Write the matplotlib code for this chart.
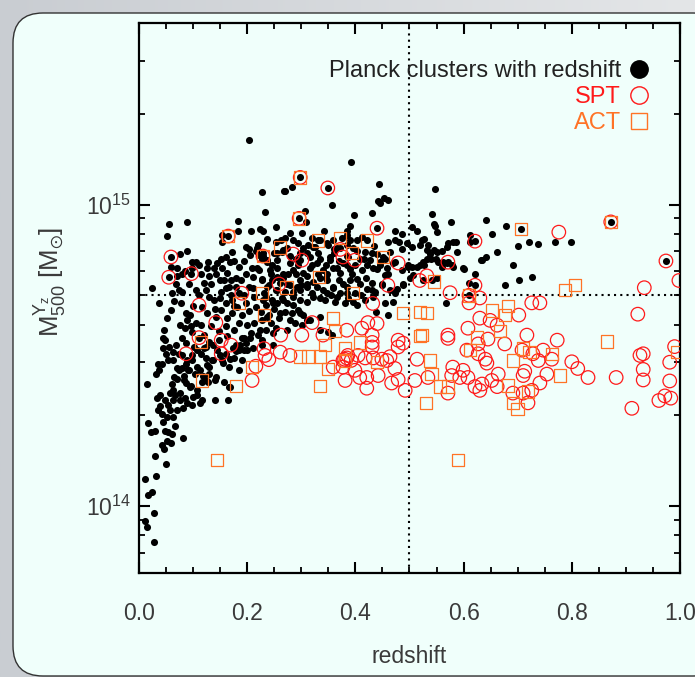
import numpy as np
import matplotlib
matplotlib.use('Agg')
import matplotlib.pyplot as plt
from matplotlib.lines import Line2D
from matplotlib.patches import FancyBboxPatch
from matplotlib.ticker import MultipleLocator, FormatStrFormatter

plt.rcParams['font.family'] = ['Liberation Sans', 'DejaVu Sans']
plt.rcParams['mathtext.fontset'] = 'custom'
plt.rcParams['mathtext.rm'] = 'Liberation Sans'
plt.rcParams['mathtext.it'] = 'Liberation Sans:italic'
plt.rcParams['mathtext.default'] = 'regular'

# (redshift, M500 in units of 1e14 Msun)
planck_pts = [
    # low-z tail
    (0.011, 1.23), (0.016, 1.09), (0.024, 1.11), (0.028, 0.95), (0.011, 0.89),
    (0.015, 0.85), (0.028, 0.76), (0.031, 1.26), (0.030, 1.47), (0.050, 1.38),
    (0.017, 1.88), (0.022, 1.76), (0.030, 1.78), (0.015, 2.54), (0.031, 2.75),
    (0.035, 2.95), (0.043, 2.95), (0.033, 2.28), (0.035, 2.08), (0.039, 2.14),
    (0.044, 1.90), (0.043, 1.60), (0.046, 1.55), (0.048, 1.78), (0.052, 1.65),
    (0.059, 1.62), (0.061, 1.74), (0.081, 1.68), (0.054, 1.76), (0.067, 1.84),
    (0.063, 1.97), (0.052, 1.97), (0.043, 2.02), (0.057, 2.08), (0.070, 2.08),
    (0.054, 2.16), (0.048, 2.24), (0.063, 2.24), (0.039, 2.33), (0.067, 2.33),
    (0.076, 2.24), (0.081, 2.12), (0.089, 2.20), (0.098, 2.16), (0.100, 2.30),
    (0.113, 2.20), (0.107, 2.33), (0.117, 2.24), (0.140, 2.24), (0.165, 2.24),
    (0.168, 2.48), (0.157, 2.58), (0.140, 2.61), (0.128, 2.58), (0.118, 2.71),
    (0.116, 2.58),
    (0.044, 3.62), (0.048, 3.55), (0.044, 3.35), (0.063, 3.24), (0.054, 3.04),
    (0.063, 3.06), (0.079, 3.16), (0.070, 2.88), (0.079, 2.88), (0.089, 3.04),
    (0.098, 3.16), (0.107, 3.29), (0.120, 3.35), (0.137, 3.42), (0.148, 3.55),
    (0.163, 3.67), (0.174, 3.35), (0.187, 3.42), (0.200, 3.29), (0.211, 3.35),
    (0.227, 3.42), (0.248, 3.42), (0.194, 3.29), (0.179, 3.27), (0.150, 3.16),
    (0.137, 3.04), (0.126, 2.93), (0.113, 2.82), (0.104, 2.75), (0.091, 2.82),
    (0.083, 2.71), (0.070, 2.64), (0.061, 2.54), (0.087, 2.56), (0.094, 2.48),
    (0.107, 2.42), (0.063, 2.42), (0.057, 2.38), (0.076, 2.38), (0.085, 2.28),
    (0.129, 2.75), (0.168, 3.08), (0.155, 2.98), (0.195, 3.62), (0.227, 3.56),
    # main cloud, z < 0.27
    (0.024, 5.28), (0.037, 4.72), (0.046, 3.83), (0.052, 4.20), (0.059, 4.46),
    (0.061, 5.10), (0.068, 5.45), (0.074, 5.20), (0.079, 5.12), (0.078, 4.72),
    (0.087, 4.36), (0.089, 4.13), (0.079, 3.60), (0.068, 3.42), (0.087, 3.47),
    (0.074, 3.20), (0.055, 3.37), (0.050, 3.20), (0.037, 2.82), (0.098, 3.78),
    (0.105, 4.06), (0.096, 3.95), (0.111, 3.62), (0.102, 3.37), (0.115, 3.20),
    (0.124, 3.37), (0.124, 3.11), (0.129, 2.89), (0.135, 3.04), (0.098, 3.04),
    (0.107, 2.89), (0.092, 2.82), (0.087, 2.97), (0.074, 2.82), (0.065, 2.67),
    (0.083, 2.61), (0.096, 2.51), (0.142, 2.67), (0.166, 2.49), (0.124, 2.61),
    (0.126, 4.36), (0.116, 4.57), (0.139, 4.82), (0.129, 4.93), (0.124, 5.20),
    (0.133, 5.45), (0.142, 5.90), (0.139, 6.18), (0.126, 6.18), (0.111, 6.30),
    (0.098, 6.15), (0.079, 5.90), (0.070, 6.18), (0.092, 5.45), (0.105, 5.20),
    (0.153, 6.18), (0.163, 5.95), (0.157, 5.61), (0.166, 5.33), (0.152, 5.12),
    (0.161, 4.72), (0.152, 4.46), (0.163, 4.20), (0.142, 4.23), (0.133, 3.95),
    (0.148, 3.80), (0.161, 3.95), (0.176, 3.83), (0.185, 4.06), (0.172, 4.36),
    (0.181, 4.57), (0.172, 4.82), (0.185, 5.08), (0.179, 5.33), (0.189, 5.61),
    (0.198, 5.90), (0.209, 6.18), (0.222, 6.06), (0.203, 5.33), (0.213, 4.93),
    (0.198, 4.72), (0.203, 4.43), (0.216, 4.57), (0.190, 3.62), (0.179, 3.42),
    (0.185, 3.29), (0.198, 3.47), (0.207, 3.75), (0.213, 4.06), (0.227, 4.13),
    (0.235, 3.83), (0.244, 4.06), (0.253, 3.89), (0.259, 4.20), (0.235, 4.64),
    (0.246, 4.82), (0.231, 5.08), (0.240, 5.40), (0.253, 5.20), (0.255, 5.74),
    (0.244, 5.90), (0.227, 5.61), (0.255, 4.72), (0.185, 2.82), (0.166, 2.89),
    (0.153, 3.04), (0.059, 6.20),
    (0.115, 4.00), (0.120, 3.70), (0.130, 3.50), (0.145, 3.30), (0.160, 3.20),
    (0.175, 3.10), (0.190, 3.05), (0.140, 4.50), (0.150, 4.90), (0.160, 5.30),
    (0.170, 5.00), (0.175, 4.60), (0.190, 4.30), (0.200, 4.00), (0.205, 3.60),
    (0.220, 3.70), (0.225, 4.40), (0.235, 4.95), (0.210, 5.30), (0.195, 5.00),
    (0.180, 5.70), (0.170, 5.60), (0.150, 5.60), (0.145, 6.40), (0.160, 6.70),
    (0.185, 6.20), (0.195, 6.50), (0.205, 6.80), (0.245, 6.30), (0.245, 5.60),
    (0.260, 5.50), (0.250, 4.50), (0.240, 4.30), (0.120, 5.50), (0.110, 5.00),
    (0.100, 4.60), (0.095, 4.30), (0.085, 3.90), (0.075, 4.00), (0.065, 4.80),
    (0.070, 5.80), (0.085, 6.00), (0.115, 5.90), (0.130, 5.80),
    # upper part, z < 0.27
    (0.203, 16.4), (0.227, 11.0), (0.268, 11.1), (0.233, 9.45), (0.055, 8.6),
    (0.089, 8.75), (0.052, 7.86), (0.183, 8.8), (0.183, 8.2), (0.153, 7.95),
    (0.153, 7.5), (0.165, 7.86), (0.207, 8.15), (0.224, 8.3), (0.229, 8.2),
    (0.253, 8.4), (0.237, 7.7), (0.253, 7.5), (0.262, 7.6), (0.198, 7.25),
    (0.203, 7.1), (0.220, 7.34), (0.172, 6.97), (0.152, 6.6), (0.089, 7.0),
    (0.076, 6.85), (0.059, 6.7), (0.098, 6.45), (0.105, 6.45), (0.128, 6.45),
    (0.168, 6.45), (0.176, 6.5), (0.216, 7.0), (0.222, 6.8), (0.227, 6.6),
    (0.250, 6.9), (0.264, 6.95), (0.255, 6.54), (0.237, 6.45), (0.055, 5.74),
    (0.097, 5.9), (0.229, 6.75),
    # 0.27 < z < 0.53, upper
    (0.392, 13.8), (0.298, 12.3), (0.349, 11.35), (0.270, 11.1), (0.283, 11.4),
    (0.444, 11.7), (0.357, 10.0), (0.307, 9.5), (0.296, 9.0), (0.309, 8.75),
    (0.397, 9.2), (0.390, 8.5), (0.384, 8.2), (0.431, 9.4), (0.442, 10.3),
    (0.453, 10.5), (0.460, 10.35), (0.446, 10.1), (0.440, 8.35), (0.342, 8.2),
    (0.331, 7.6), (0.421, 7.6), (0.505, 8.4), (0.514, 8.15), (0.527, 7.7),
    (0.473, 8.15), (0.486, 8.0), (0.473, 7.62), (0.481, 7.5), (0.495, 7.45),
    (0.460, 7.5), (0.434, 7.3), (0.412, 7.8), (0.403, 7.62), (0.384, 7.9),
    (0.390, 7.6), (0.375, 7.75), (0.359, 7.62), (0.320, 7.75), (0.312, 7.34),
    (0.301, 8.05), (0.279, 8.05), (0.270, 7.75),
    (0.294, 7.45), (0.325, 7.25), (0.347, 7.45), (0.366, 7.2), (0.403, 7.0),
    (0.418, 6.95), (0.440, 6.85), (0.451, 6.7), (0.464, 6.95), (0.486, 7.1),
    (0.505, 7.25), (0.519, 7.34), (0.473, 6.45), (0.445, 6.45), (0.427, 6.54),
    (0.408, 6.6), (0.384, 6.75), (0.353, 6.7), (0.335, 6.6), (0.316, 6.7),
    (0.298, 6.9), (0.279, 6.75), (0.266, 7.06),
    # z > 0.52
    (0.547, 11.25), (0.541, 9.3), (0.545, 8.6), (0.547, 8.5), (0.577, 8.75),
    (0.550, 8.1), (0.641, 8.9), (0.678, 8.5), (0.706, 8.3), (0.652, 8.0),
    (0.612, 7.9), (0.612, 7.5), (0.523, 7.6), (0.534, 7.34), (0.571, 7.45),
    (0.580, 7.5), (0.586, 7.5), (0.569, 7.25), (0.700, 7.3), (0.721, 7.5),
    (0.738, 7.4), (0.769, 7.5), (0.662, 6.95), (0.641, 6.7), (0.632, 6.54),
    (0.588, 6.95), (0.550, 6.95), (0.560, 7.0), (0.532, 7.06), (0.538, 6.85),
    (0.532, 6.6), (0.525, 6.45), (0.553, 6.45), (0.562, 6.45), (0.571, 6.44),
    (0.691, 6.3), (0.799, 7.5), (0.872, 8.76), (0.974, 6.5), (0.621, 7.56),
    (0.545, 7.06), (0.549, 6.6), (0.540, 6.6), (0.527, 6.3), (0.519, 6.3),
    (0.514, 6.2), (0.505, 6.2), (0.497, 6.2), (0.580, 6.2), (0.601, 6.1),
    (0.621, 5.9), (0.610, 5.5), (0.621, 5.4), (0.610, 5.0), (0.567, 4.72),
    (0.676, 5.4), (0.702, 5.6), (0.726, 5.75), (0.501, 5.7), (0.488, 5.4),
    (0.470, 4.75), (0.473, 5.08), (0.460, 4.3), (0.438, 4.4), (0.455, 5.83),
    (0.449, 5.4), (0.431, 5.2), (0.525, 5.6), (0.541, 5.6), (0.550, 5.7),
    (0.560, 6.2), (0.569, 6.4), (0.578, 6.3), (0.599, 6.15), (0.634, 6.54),
    # dense middle, 0.26 < z < 0.51
    (0.266, 5.7), (0.275, 5.9), (0.285, 6.06), (0.294, 6.3), (0.303, 5.95),
    (0.316, 6.18), (0.298, 5.61), (0.279, 5.4), (0.270, 5.12), (0.264, 4.9),
    (0.285, 5.12), (0.298, 5.2), (0.311, 5.33), (0.322, 5.53), (0.335, 5.7),
    (0.348, 5.9), (0.359, 6.18), (0.372, 5.95), (0.384, 6.3), (0.394, 5.9),
    (0.403, 5.66), (0.412, 6.06), (0.421, 6.3), (0.433, 6.15), (0.445, 6.3),
    (0.458, 6.15), (0.469, 6.42), (0.486, 6.06), (0.497, 6.3), (0.506, 5.83),
    (0.488, 5.45), (0.477, 5.25), (0.464, 5.2), (0.449, 5.45), (0.436, 5.12),
    (0.421, 5.25), (0.408, 5.45), (0.399, 5.08), (0.384, 5.33), (0.372, 5.08),
    (0.359, 5.29), (0.348, 5.08), (0.335, 4.9), (0.322, 4.93), (0.311, 4.75),
    (0.298, 4.82), (0.285, 4.64), (0.274, 4.72), (0.270, 4.4), (0.283, 4.36),
    (0.294, 4.46), (0.303, 4.3), (0.288, 4.06), (0.301, 3.98), (0.311, 4.13),
    (0.335, 3.83), (0.349, 3.78), (0.357, 3.69), (0.455, 4.72), (0.381, 4.72),
    (0.362, 4.75), (0.403, 4.64), (0.418, 4.82), (0.433, 4.93), (0.386, 4.9),
    (0.218, 7.15), (0.229, 6.9), (0.237, 6.54), (0.218, 6.18), (0.211, 5.74),
    (0.227, 5.66), (0.242, 6.06), (0.255, 6.18), (0.266, 5.9), (0.279, 6.42),
    (0.298, 6.54), (0.329, 6.42), (0.340, 6.06), (0.353, 6.54), (0.366, 6.18),
    (0.377, 6.42), (0.386, 6.7), (0.255, 6.9), (0.274, 7.2), (0.285, 7.62),
    (0.303, 7.2), (0.322, 7.25), (0.335, 7.62), (0.349, 7.34), (0.372, 7.2),
    (0.384, 7.34), (0.237, 5.33), (0.255, 5.2), (0.274, 5.45), (0.292, 5.33),
    (0.311, 5.45), (0.329, 5.33), (0.348, 5.61), (0.359, 5.33), (0.377, 5.45),
    (0.229, 4.82), (0.248, 4.72), (0.266, 4.82), (0.285, 4.93), (0.344, 4.82),
    (0.366, 4.93), (0.384, 5.08), (0.237, 4.23), (0.261, 4.36), (0.279, 4.13),
    (0.298, 4.36), (0.316, 4.13), (0.335, 4.23), (0.224, 3.83), (0.248, 3.75),
    (0.274, 3.83),
    (0.290, 6.60), (0.310, 6.90), (0.320, 6.30), (0.330, 6.90), (0.345, 6.30),
    (0.360, 6.90), (0.370, 6.50), (0.390, 6.10), (0.400, 6.30), (0.415, 6.60),
    (0.430, 6.90), (0.440, 6.10), (0.455, 6.60), (0.460, 5.90), (0.395, 7.20),
    (0.360, 7.10), (0.345, 5.70), (0.330, 5.90), (0.310, 5.80), (0.290, 5.90),
    (0.300, 5.40), (0.320, 5.10), (0.340, 5.20), (0.355, 5.00), (0.370, 5.60),
    (0.390, 5.60), (0.420, 5.70), (0.430, 5.50), (0.410, 5.00), (0.395, 4.75),
]

spt_pts = [
    (0.298, 12.3), (0.349, 11.35), (0.296, 9.0), (0.165, 7.86), (0.059, 6.7),
    (0.055, 5.74), (0.097, 5.9), (0.229, 6.75), (0.440, 8.35), (0.872, 8.76),
    (0.974, 6.5), (0.571, 6.44), (0.621, 7.56), (0.621, 5.4), (0.610, 5.0),
    (0.776, 8.1),
    (0.111, 4.64), (0.142, 4.06), (0.152, 3.55), (0.111, 3.62), (0.087, 3.2),
    (0.170, 3.42), (0.152, 3.2), (0.190, 5.08), (0.262, 3.69), (0.231, 3.33),
    (0.233, 3.16), (0.240, 3.06), (0.216, 2.91), (0.209, 2.61), (0.259, 5.45),
    (0.261, 3.24), (0.279, 3.16), (0.301, 3.69), (0.320, 4.06), (0.340, 3.69),
    (0.384, 3.83), (0.412, 3.89), (0.423, 4.06), (0.440, 4.03), (0.431, 3.69),
    (0.431, 3.49), (0.431, 3.37), (0.384, 3.1), (0.377, 3.04), (0.386, 3.16),
    (0.380, 3.07), (0.392, 3.04), (0.405, 3.16), (0.418, 3.1), (0.433, 3.1),
    (0.449, 3.07), (0.458, 3.04), (0.464, 3.13), (0.473, 2.86), (0.359, 2.89),
    (0.377, 2.89), (0.399, 2.82), (0.408, 2.67), (0.421, 2.67), (0.421, 2.46),
    (0.381, 2.61), (0.467, 2.56), (0.442, 2.71), (0.479, 3.55), (0.488, 3.47),
    (0.479, 3.37), (0.514, 3.07), (0.510, 2.61), (0.460, 5.4), (0.432, 4.7),
    (0.479, 6.4), (0.532, 5.8), (0.519, 5.6), (0.575, 5.1), (0.610, 4.72),
    (0.630, 4.9), (0.726, 4.72), (0.741, 4.72), (0.702, 4.3), (0.630, 4.2),
    (0.649, 4.13), (0.662, 3.98), (0.608, 3.89), (0.645, 3.58), (0.676, 3.45),
    (0.717, 3.69), (0.773, 3.55), (0.571, 3.69), (0.571, 3.6), (0.627, 3.45),
    (0.606, 3.29), (0.627, 3.2), (0.640, 3.07), (0.643, 2.98), (0.708, 3.29),
    (0.728, 3.2), (0.747, 3.29), (0.763, 3.07), (0.738, 3.04), (0.580, 2.89),
    (0.599, 2.82), (0.578, 2.71), (0.593, 2.67), (0.608, 2.67), (0.621, 2.49),
    (0.634, 2.54), (0.664, 2.74), (0.662, 2.49), (0.710, 2.71), (0.754, 2.74),
    (0.726, 2.42), (0.479, 2.63), (0.492, 2.42), (0.534, 2.67), (0.571, 2.37),
    (0.630, 2.42), (0.652, 2.61), (0.691, 2.37), (0.710, 2.37), (0.719, 2.2),
    (0.713, 2.8), (0.741, 2.56), (0.800, 3.01), (0.811, 2.86), (0.830, 2.67),
    (0.882, 2.67), (0.911, 2.11), (0.926, 3.16), (0.932, 3.2), (0.932, 2.84),
    (0.932, 2.62), (0.961, 2.24), (0.972, 2.32), (0.983, 2.28), (0.981, 2.6),
    (0.981, 3.0), (0.990, 3.38), (0.934, 5.3), (0.998, 5.6), (0.922, 4.33),
    (0.285, 6.85), (0.301, 6.54), (0.372, 7.1), (0.377, 6.7), (0.399, 6.54),
]

act_pts = [
    (0.298, 12.3), (0.296, 9.0), (0.165, 7.86), (0.229, 6.75), (0.331, 7.6),
    (0.421, 7.6), (0.706, 8.3), (0.872, 8.76), (0.610, 5.0),
    (0.144, 1.42), (0.590, 1.42), (0.209, 2.89), (0.116, 2.61), (0.179, 2.5),
    (0.231, 4.3), (0.227, 5.08), (0.185, 4.72), (0.115, 3.5), (0.359, 4.2),
    (0.362, 3.8), (0.408, 3.49), (0.344, 3.42), (0.298, 3.13), (0.313, 3.13),
    (0.335, 3.13), (0.349, 2.85), (0.381, 3.33), (0.335, 2.5), (0.440, 3.0),
    (0.519, 3.66), (0.519, 4.4), (0.488, 4.36), (0.396, 5.1), (0.273, 5.3),
    (0.333, 5.75), (0.372, 7.75), (0.394, 6.9), (0.451, 6.7), (0.261, 7.2),
    (0.682, 4.6), (0.652, 4.46), (0.676, 4.3), (0.532, 4.36), (0.523, 3.69),
    (0.625, 3.62), (0.667, 3.8), (0.612, 3.29), (0.710, 3.33), (0.722, 3.25),
    (0.763, 3.2), (0.691, 3.04), (0.541, 2.74), (0.571, 2.49), (0.682, 2.51),
    (0.778, 2.71), (0.719, 2.4), (0.865, 3.52), (0.994, 3.25), (0.531, 2.2),
    (0.700, 2.1), (0.691, 2.2), (0.556, 2.49), (0.538, 3.04), (0.806, 5.4),
    (0.787, 5.2), (0.545, 5.55), (0.381, 3.04),
]

legend_labels = ['Planck clusters with redshift', 'SPT', 'ACT']
z_split = 0.5
m_split = 5.0e14

red = '#ff1a1a'
orange = '#ff7326'

planck = np.array(planck_pts)
spt = np.array(spt_pts)
act = np.array(act_pts)

fig = plt.figure(figsize=(6.95, 6.77), dpi=100)

# background: grey gradient with a rounded light panel
bg = fig.add_axes([0, 0, 1, 1])
grad = np.linspace(0, 1, 256)[None, :]
bg.imshow(grad, extent=(0, 695, 677, 0), aspect='auto',
          cmap=matplotlib.colors.LinearSegmentedColormap.from_list(
              'g', ['#c9cdd2', '#e4e6e8']))
bg.add_patch(FancyBboxPatch((13, 13), 710, 663,
                            boxstyle='round,pad=0,rounding_size=30',
                            fc='#f0fffb', ec='#333333', lw=1.0))
bg.set_xlim(0, 695)
bg.set_ylim(677, 0)
bg.axis('off')

ax = fig.add_axes([139/695, 1 - 573/677, 541/695, 550/677])
ax.set_facecolor('none')

ax.scatter(planck[:, 0], planck[:, 1]*1e14, s=26, c='k', lw=0, zorder=3)
ax.scatter(spt[:, 0], spt[:, 1]*1e14, s=95, facecolors='none',
           edgecolors=red, lw=0.9, zorder=4)
ax.scatter(act[:, 0], act[:, 1]*1e14, s=80, marker='s', facecolors='none',
           edgecolors=orange, lw=0.9, zorder=4)

ax.axvline(z_split, color='k', ls=(0, (1, 2)), lw=1.5, zorder=2)
ax.axhline(m_split, color='k', ls=(0, (1, 2)), lw=1.5, zorder=2)

ax.set_yscale('log')
ax.set_xlim(0, 1.0)
ax.set_ylim(6e13, 4e15)
ax.xaxis.set_major_locator(MultipleLocator(0.2))
ax.xaxis.set_minor_locator(MultipleLocator(0.05))
ax.xaxis.set_major_formatter(FormatStrFormatter('%.1f'))

for s in ax.spines.values():
    s.set_linewidth(1.6)
ax.tick_params(which='both', direction='in', top=True, right=True,
               labelsize=16.5, labelcolor='#3a3a3a')
ax.tick_params(which='major', length=8, width=1.5)
ax.tick_params(which='minor', length=4.5, width=1.3)
ax.tick_params(axis='x', pad=21)
ax.tick_params(axis='y', pad=6)

ax.set_xlabel('redshift', fontsize=16.5, color='#3a3a3a', labelpad=14)
ax.set_ylabel(r'$\mathrm{M}_{500}^{\mathrm{Y}_z}$ [M$_{\odot}$]',
              fontsize=18.5, color='#3a3a3a')
ax.yaxis.set_label_coords(-0.13, 0.53)

handles = [
    Line2D([], [], ls='', marker='o', color='k', markersize=12.5),
    Line2D([], [], ls='', marker='o', mfc='none', mec=red, mew=1.0,
           markersize=12.5),
    Line2D([], [], ls='', marker='s', mfc='none', mec=orange, mew=1.0,
           markersize=12),
]
ax.legend(handles, legend_labels, loc='upper right', markerfirst=False,
          frameon=False, fontsize=17, labelcolor=['#222222', red, orange],
          handlelength=0.75, handletextpad=0.37, labelspacing=0.18,
          borderpad=0, borderaxespad=0, bbox_to_anchor=(0.94, 0.933))

fig.savefig('out.png', dpi=100)
